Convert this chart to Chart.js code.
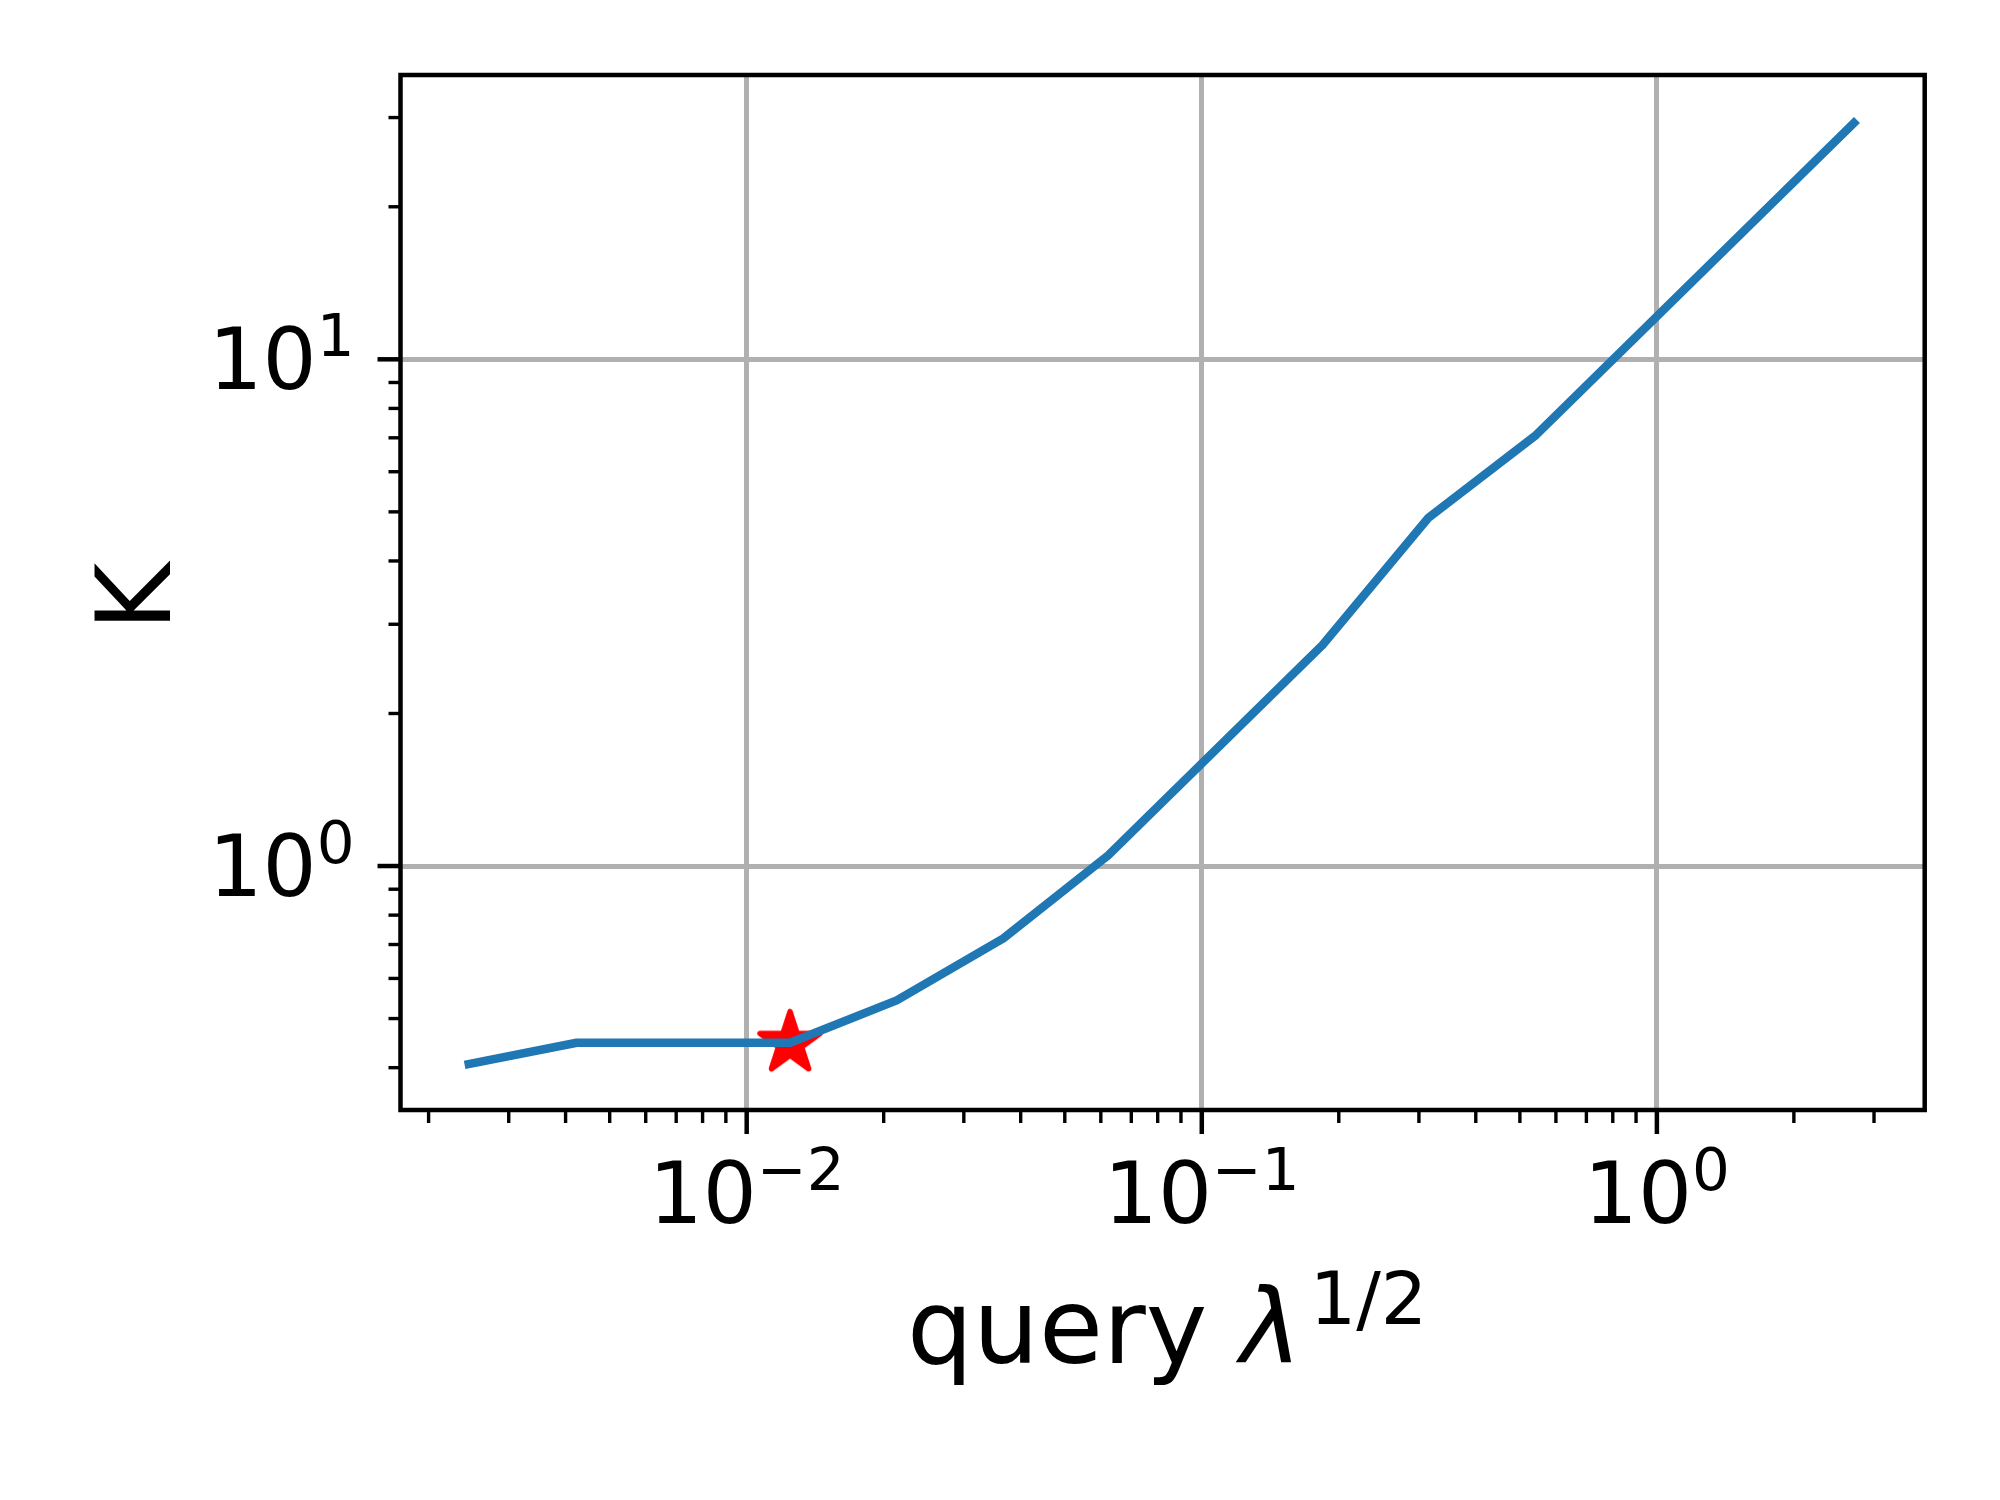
<!DOCTYPE html>
<html>
<head>
<meta charset="utf-8">
<script src="https://cdn.jsdelivr.net/npm/chart.js@4.4.1/dist/chart.umd.min.js"></script>
<style>
  html, body { margin: 0; padding: 0; background: #fff; }
  #wrap { width: 2000px; height: 1500px; }
</style>
</head>
<body>
<div id="wrap"><canvas id="chart" width="2000" height="1500"></canvas></div>
<script>
"use strict";

// values
var lambdaRoot = [0.00240, 0.00423, 0.01245, 0.02136, 0.03664, 0.06222, 0.1842, 0.3141, 0.5425, 2.752];
var kValues    = [0.405, 0.448, 0.448, 0.543, 0.720, 1.049, 2.731, 4.857, 7.089, 29.67];
var starX = [0.01245];
var starY = [0.447];

// axes
var xMin = 0.001735, xMax = 3.877;
var yMin = 0.330, yMax = 36.4;
var xMajorTicks = [0.01, 0.1, 1];
var xTickExps = ['\u22122', '\u22121', '0'];
var yMajorTicks = [1, 10];
var yTickExps = ['0', '1'];
var xTitle = 'query ';
var xTitleSymbol = '\u03bb';
var xTitleExp = '1/2';
var yTitle = 'K';

var FONT = '"DejaVu Sans"';
var BLUE = '#1f77b4';
var GRID = '#b0b0b0';

// 2..9 x 10^n between min and max
function minorTicks(min, max) {
	var out = [];
	for (var d = Math.floor(Math.log10(min)); d <= Math.ceil(Math.log10(max)); d++) {
		for (var m = 2; m <= 9; m++) {
			var v = Number((m * Math.pow(10, d)).toPrecision(6));
			if (v >= min && v <= max) out.push(v);
		}
	}
	return out;
}
var xMinorTicks = minorTicks(xMin, xMax);
var yMinorTicks = minorTicks(yMin, yMax);

// filled star like matplotlib's '*' marker
function makeStar(r, color) {
	var size = Math.ceil(2 * (r + 5));
	if (size % 2) size++;
	var c = document.createElement('canvas');
	c.width = size; c.height = size;
	var g = c.getContext('2d');
	g.translate(size / 2, size / 2);
	g.beginPath();
	for (var i = 0; i < 10; i++) {
		var rad = i % 2 === 0 ? r : r * 0.381966;
		var ang = -Math.PI / 2 + i * Math.PI / 5;
		if (i === 0) g.moveTo(rad * Math.cos(ang), rad * Math.sin(ang));
		else g.lineTo(rad * Math.cos(ang), rad * Math.sin(ang));
	}
	g.closePath();
	g.fillStyle = color;
	g.fill();
	g.lineJoin = 'round';
	g.lineWidth = 5.6;
	g.strokeStyle = color;
	g.stroke();
	return c;
}

// 10^n label with a raised, smaller exponent
function drawPow(ctx, x, y, exp, align) {
	ctx.font = '85px ' + FONT;
	var wb = ctx.measureText('10').width;
	ctx.font = '59.5px ' + FONT;
	var we = ctx.measureText(exp).width;
	var start = align === 'center' ? x - (wb + we) / 2 : x - (wb + we);
	ctx.font = '85px ' + FONT;
	ctx.fillText('10', start, y);
	ctx.font = '59.5px ' + FONT;
	ctx.fillText(exp, start + wb, y - 33);
}

var axesDecor = {
	id: 'axesDecor',
	afterDraw: function(chart) {
		var ctx = chart.ctx, a = chart.chartArea;
		var xs = chart.scales.x, ys = chart.scales.y;
		ctx.save();
		ctx.strokeStyle = '#000';
		ctx.lineCap = 'butt';

		function tick(x1, y1, x2, y2) {
			ctx.beginPath();
			ctx.moveTo(x1, y1);
			ctx.lineTo(x2, y2);
			ctx.stroke();
		}
		ctx.lineWidth = 3.4;
		xMinorTicks.forEach(function(v) {
			var px = xs.getPixelForValue(v);
			tick(px, a.bottom, px, a.bottom + 13);
		});
		yMinorTicks.forEach(function(v) {
			var py = ys.getPixelForValue(v);
			tick(a.left, py, a.left - 12, py);
		});
		ctx.lineWidth = 4.5;
		xMajorTicks.forEach(function(v) {
			var px = xs.getPixelForValue(v);
			tick(px, a.bottom, px, a.bottom + 24);
		});
		yMajorTicks.forEach(function(v) {
			var py = ys.getPixelForValue(v);
			tick(a.left, py, a.left - 23, py);
		});

		// frame
		ctx.lineWidth = 4.5;
		ctx.lineJoin = 'miter';
		ctx.strokeRect(a.left, a.top, a.right - a.left, a.bottom - a.top);

		// tick labels
		ctx.fillStyle = '#000';
		ctx.textAlign = 'left';
		ctx.textBaseline = 'alphabetic';
		xMajorTicks.forEach(function(v, i) {
			drawPow(ctx, xs.getPixelForValue(v), a.bottom + 113, xTickExps[i], 'center');
		});
		yMajorTicks.forEach(function(v, i) {
			drawPow(ctx, a.left - 46, ys.getPixelForValue(v) + 30, yTickExps[i], 'right');
		});

		// x title
		var tx = 907, ty = 1363;
		ctx.font = '104px ' + FONT;
		ctx.fillText(xTitle, tx, ty);
		tx += ctx.measureText(xTitle).width;
		ctx.font = 'italic 104px ' + FONT;
		ctx.fillText(xTitleSymbol, tx, ty);
		tx += ctx.measureText(xTitleSymbol).width + 8;
		ctx.font = '73px ' + FONT;
		ctx.fillText(xTitleExp, tx, ty - 39);

		// y title
		ctx.translate(170, 597);
		ctx.rotate(-Math.PI / 2);
		ctx.textAlign = 'center';
		ctx.font = '104px ' + FONT;
		ctx.fillText(yTitle, 0, 0);
		ctx.restore();
	}
};

Chart.defaults.font.family = FONT;

var lineData = lambdaRoot.map(function(x, i) { return {x: x, y: kValues[i]}; });
var starData = starX.map(function(x, i) { return {x: x, y: starY[i]}; });

new Chart(document.getElementById('chart').getContext('2d'), {
	type: 'scatter',
	data: {
		datasets: [{
			data: lineData,
			showLine: true,
			borderColor: BLUE,
			borderWidth: 8.5,
			borderCapStyle: 'butt',
			borderJoinStyle: 'round',
			tension: 0,
			pointRadius: 0,
			order: 0
		}, {
			data: starData,
			pointStyle: makeStar(31.5, '#ff0000'),
			pointRadius: 34,
			backgroundColor: '#ff0000',
			borderColor: '#ff0000',
			order: 1
		}]
	},
	options: {
		responsive: false,
		devicePixelRatio: 1,
		animation: false,
		layout: {padding: {left: 0, top: 75, right: 75.3, bottom: 0}},
		plugins: {
			legend: {display: false},
			tooltip: {enabled: false}
		},
		scales: {
			x: {
				type: 'logarithmic',
				position: 'bottom',
				min: xMin,
				max: xMax,
				ticks: {display: false, autoSkip: false},
				grid: {color: GRID, lineWidth: 5, drawTicks: false},
				border: {display: false},
				afterBuildTicks: function(scale) {
					scale.ticks = xMajorTicks.map(function(v) { return {value: v}; });
					scale.min = xMin;
					scale.max = xMax;
				},
				afterFit: function(scale) { scale.height = 390; }
			},
			y: {
				type: 'logarithmic',
				position: 'left',
				min: yMin,
				max: yMax,
				ticks: {display: false, autoSkip: false},
				grid: {color: GRID, lineWidth: 5, drawTicks: false},
				border: {display: false},
				afterBuildTicks: function(scale) {
					scale.ticks = yMajorTicks.map(function(v) { return {value: v}; });
					scale.min = yMin;
					scale.max = yMax;
				},
				afterFit: function(scale) { scale.width = 400.5; }
			}
		}
	},
	plugins: [axesDecor]
});
</script>
</body>
</html>
